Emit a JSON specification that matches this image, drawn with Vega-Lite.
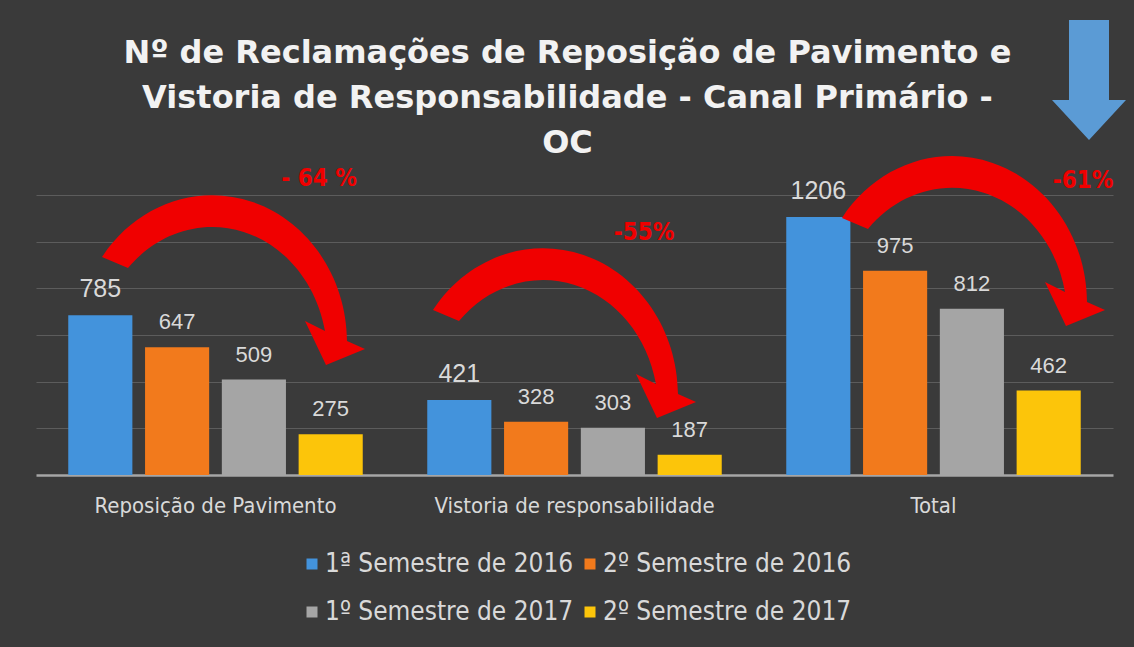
{
  "$schema": "https://vega.github.io/schema/vega-lite/v6.json",
  "autosize": "none",
  "width": 1077,
  "height": 280,
  "padding": {"left": 36, "top": 195, "right": 21, "bottom": 172},
  "background": "#3a3a3a",
  "title": {
    "text": ["Nº de Reclamações de Reposição de Pavimento e", "Vistoria de Responsabilidade - Canal Primário -", "OC"],
    "font": "DejaVu Sans",
    "fontSize": 32,
    "fontWeight": "bold",
    "color": "#f2f2f2",
    "lineHeight": 45,
    "anchor": "middle",
    "frame": "group",
    "dx": -7,
    "offset": -140
  },
  "datasets": {
    "claims": [
      {"category": "Reposição de Pavimento", "series": "1ª Semestre de 2016", "value": 785},
      {"category": "Reposição de Pavimento", "series": "2º Semestre de 2016", "value": 647},
      {"category": "Reposição de Pavimento", "series": "1º Semestre de 2017", "value": 509},
      {"category": "Reposição de Pavimento", "series": "2º Semestre de 2017", "value": 275},
      {"category": "Vistoria de responsabilidade", "series": "1ª Semestre de 2016", "value": 421},
      {"category": "Vistoria de responsabilidade", "series": "2º Semestre de 2016", "value": 328},
      {"category": "Vistoria de responsabilidade", "series": "1º Semestre de 2017", "value": 303},
      {"category": "Vistoria de responsabilidade", "series": "2º Semestre de 2017", "value": 187},
      {"category": "Total", "series": "1ª Semestre de 2016", "value": 1206},
      {"category": "Total", "series": "2º Semestre de 2016", "value": 975},
      {"category": "Total", "series": "1º Semestre de 2017", "value": 812},
      {"category": "Total", "series": "2º Semestre de 2017", "value": 462}
    ],
    "changes": [
      {"category": "Reposição de Pavimento", "change": "- 64 %"},
      {"category": "Vistoria de responsabilidade", "change": "-55%"},
      {"category": "Total", "change": "-61%"}
    ]
  },
  "data": {"name": "claims"},
  "encoding": {
    "x": {
      "field": "category",
      "type": "nominal",
      "sort": ["Reposição de Pavimento", "Vistoria de responsabilidade", "Total"],
      "scale": {"paddingInner": 0, "paddingOuter": 0},
      "axis": {
        "title": null,
        "labelAngle": 0,
        "labelFont": "Liberation Sans Narrow, DejaVu Sans Condensed, Liberation Sans",
        "labelFontSize": 22,
        "labelColor": "#d9d9d9",
        "labelPadding": 20,
        "labelLimit": 400,
        "ticks": false,
        "domain": true,
        "domainColor": "#a6a6a6",
        "domainWidth": 2.5,
        "grid": false
      }
    }
  },
  "layer": [
    {
      "mark": {"type": "bar"},
      "encoding": {
        "xOffset": {
          "field": "series",
          "type": "nominal",
          "sort": ["1ª Semestre de 2016", "2º Semestre de 2016", "1º Semestre de 2017", "2º Semestre de 2017"],
          "scale": {"paddingInner": 0.165, "paddingOuter": 0.42}
        },
        "y": {
          "field": "value",
          "type": "quantitative",
          "scale": {"domain": [100, 1300], "zero": false, "nice": false},
          "axis": {
            "title": null,
            "labels": false,
            "ticks": false,
            "domain": false,
            "values": [300, 500, 700, 900, 1100, 1300],
            "grid": true,
            "gridColor": "#5c5c5c",
            "gridWidth": 1
          }
        },
        "y2": {"datum": 100},
        "color": {
          "field": "series",
          "type": "nominal",
          "scale": {
            "domain": ["1ª Semestre de 2016", "2º Semestre de 2016", "1º Semestre de 2017", "2º Semestre de 2017"],
            "range": ["#4393dc", "#f27a1c", "#a5a5a5", "#fcc50a"]
          },
          "legend": {
            "title": null,
            "orient": "none",
            "legendX": 263,
            "legendY": 356,
            "direction": "horizontal",
            "columns": 2,
            "symbolType": "square",
            "symbolSize": 121,
            "symbolStrokeWidth": 0,
            "labelFont": "Liberation Sans Narrow, DejaVu Sans Condensed, Liberation Sans",
            "labelFontSize": 26,
            "labelColor": "#d9d9d9",
            "labelOffset": 0,
            "labelLimit": 400,
            "columnPadding": 3,
            "rowPadding": 22
          }
        }
      }
    },
    {
      "mark": {"type": "text", "baseline": "alphabetic", "dy": -18, "color": "#d9d9d9", "font": "Liberation Sans"},
      "encoding": {
        "xOffset": {
          "field": "series",
          "type": "nominal",
          "sort": ["1ª Semestre de 2016", "2º Semestre de 2016", "1º Semestre de 2017", "2º Semestre de 2017"]
        },
        "y": {"field": "value", "type": "quantitative"},
        "text": {"field": "value", "type": "quantitative"},
        "size": {
          "condition": {"test": "datum.series === '1ª Semestre de 2016'", "value": 25},
          "value": 22
        }
      }
    },
    {
      "data": {"name": "changes"},
      "transform": [{"filter": "datum.category === 'Reposição de Pavimento'"}],
      "mark": {
        "type": "point",
        "filled": true,
        "size": 4,
        "xOffset": -3.5,
        "color": "#f00000",
        "opacity": 1,
        "shape": "M-110,-80A135,147 0 0 1 135,4L153,12L114,28L93,-16L113,-6A115,129 0 0 0 -84,-69Z"
      },
      "encoding": {"y": {"datum": 691}}
    },
    {
      "data": {"name": "changes"},
      "transform": [{"filter": "datum.category === 'Vistoria de responsabilidade'"}],
      "mark": {
        "type": "point",
        "filled": true,
        "size": 4,
        "xOffset": -31.5,
        "color": "#f00000",
        "opacity": 1,
        "shape": "M-110,-80A135,147 0 0 1 135,4L153,12L114,28L93,-16L113,-6A115,129 0 0 0 -84,-69Z"
      },
      "encoding": {"y": {"datum": 464}}
    },
    {
      "data": {"name": "changes"},
      "transform": [{"filter": "datum.category === 'Total'"}],
      "mark": {
        "type": "point",
        "filled": true,
        "size": 4,
        "xOffset": 18.5,
        "color": "#f00000",
        "opacity": 1,
        "shape": "M-110,-80A135,147 0 0 1 135,4L153,12L114,28L93,-16L113,-6A115,129 0 0 0 -84,-69Z"
      },
      "encoding": {"y": {"datum": 859}}
    },
    {
      "data": {"name": "changes"},
      "transform": [{"filter": "datum.category === 'Reposição de Pavimento'"}],
      "mark": {"type": "text", "xOffset": 103.5, "color": "#f00000", "fontWeight": "bold", "fontSize": 24, "font": "Liberation Sans Narrow, DejaVu Sans Condensed, Liberation Sans", "baseline": "middle"},
      "encoding": {"y": {"datum": 1369}, "text": {"field": "change"}}
    },
    {
      "data": {"name": "changes"},
      "transform": [{"filter": "datum.category === 'Vistoria de responsabilidade'"}],
      "mark": {"type": "text", "xOffset": 69.5, "color": "#f00000", "fontWeight": "bold", "fontSize": 24, "font": "Liberation Sans Narrow, DejaVu Sans Condensed, Liberation Sans", "baseline": "middle"},
      "encoding": {"y": {"datum": 1137}, "text": {"field": "change"}}
    },
    {
      "data": {"name": "changes"},
      "transform": [{"filter": "datum.category === 'Total'"}],
      "mark": {"type": "text", "xOffset": 149.5, "color": "#f00000", "fontWeight": "bold", "fontSize": 24, "font": "Liberation Sans Narrow, DejaVu Sans Condensed, Liberation Sans", "baseline": "middle"},
      "encoding": {"y": {"datum": 1360}, "text": {"field": "change"}}
    },
    {
      "data": {"name": "changes"},
      "transform": [{"filter": "datum.category === 'Total'"}],
      "mark": {
        "type": "point",
        "filled": true,
        "size": 4,
        "xOffset": 155.5,
        "color": "#5b9bd5",
        "opacity": 1,
        "shape": "M-20,-60L20,-60L20,20L37,20L0,60L-37,20L-20,20Z"
      },
      "encoding": {"y": {"datum": 1793}}
    }
  ],
  "config": {
    "view": {"stroke": null}
  }
}
